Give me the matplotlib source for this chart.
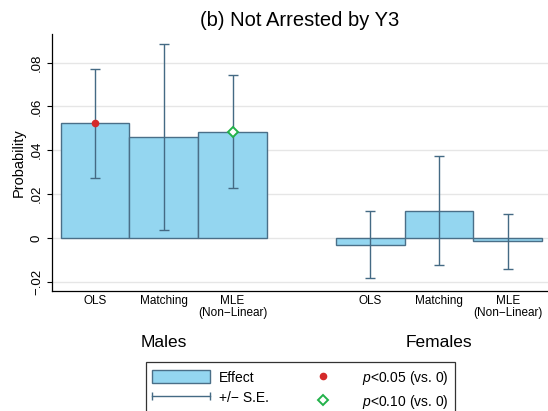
import numpy as np
import matplotlib
matplotlib.use("Agg")
import matplotlib.pyplot as plt
import matplotlib.transforms as mtransforms
from matplotlib.patches import Patch
from matplotlib.lines import Line2D
from matplotlib.legend_handler import HandlerLine2D

plt.rcParams["font.family"] = ["Liberation Sans", "DejaVu Sans"]
plt.rcParams["mathtext.fontset"] = "custom"
plt.rcParams["mathtext.rm"] = "Liberation Sans"
plt.rcParams["mathtext.it"] = "Liberation Sans:italic"

# Daten
groups = ["Males", "Females"]
models = ["OLS", "Matching", "MLE\n(Non\u2212Linear)"]
effect = {
    "Males": [0.0522, 0.0461, 0.0484],
    "Females": [-0.0030, 0.0125, -0.0016],
}
se = {
    "Males": [0.0250, 0.0425, 0.0258],
    "Females": [0.0153, 0.0247, 0.0124],
}
sig05 = {"Males": [True, False, False], "Females": [False, False, False]}
sig10 = {"Males": [False, False, True], "Females": [False, False, False]}

yticks = [-0.02, 0, 0.02, 0.04, 0.06, 0.08]
ytick_labels = ["\u2212.02", "0", ".02", ".04", ".06", ".08"]

bar_face = "#94d6f0"
bar_edge = "#4a6f88"
err_col = "#446a84"
red = "#d42a2a"
green = "#22b24a"

fig = plt.figure(figsize=(5.48, 4.11), dpi=100)
ax = fig.add_axes([52 / 548, 1 - 291 / 411, 1 - 52 / 548, (291 - 34) / 411])

xpos_all = []
xlab_all = []
for gi, g in enumerate(groups):
    xpos = gi * 4 + 1 + np.arange(len(models))
    vals = np.array(effect[g])
    errs = np.array(se[g])
    ax.bar(xpos, vals, width=1.0, color=bar_face, edgecolor=bar_edge,
           linewidth=1.0, zorder=2)
    ax.errorbar(xpos, vals, yerr=errs, fmt="none", ecolor=err_col,
                elinewidth=1.0, capsize=3.8, capthick=1.0, zorder=3)
    m05 = np.array(sig05[g])
    m10 = np.array(sig10[g])
    ax.plot(xpos[m05], vals[m05], "o", color=red, markersize=5.5,
            markeredgewidth=0, zorder=4)
    ax.plot(xpos[m10], vals[m10], "D", markerfacecolor="white",
            markeredgecolor=green, markersize=5, markeredgewidth=1.4,
            zorder=4)
    xpos_all += list(xpos)
    xlab_all += models

    trans = mtransforms.blended_transform_factory(ax.transData, fig.transFigure)
    ax.text(xpos.mean(), 1 - 342 / 411, g, transform=trans, ha="center",
            va="center", fontsize=12.5)

ax.set_xlim(0.373, 7.587)
ax.set_ylim(-0.0242, 0.093)
ax.set_xticks(xpos_all)
ax.set_xticklabels(xlab_all, fontsize=8.5, linespacing=0.95)
ax.tick_params(axis="x", length=0, pad=3)
ax.set_yticks(yticks)
ax.set_yticklabels(ytick_labels, rotation=90, va="center", fontsize=9.5)
ax.tick_params(axis="y", length=3.5, width=0.8, pad=3)
ax.set_ylabel("Probability", fontsize=10.5, labelpad=4)
ax.yaxis.grid(True, color="#e6e6e6", linewidth=1.0, zorder=0)
ax.set_axisbelow(True)
ax.spines["top"].set_visible(False)
ax.spines["right"].set_visible(False)
ax.spines["left"].set_linewidth(0.9)
ax.spines["bottom"].set_linewidth(0.9)
ax.set_title("(b) Not Arrested by Y3", fontsize=14.5, pad=6)

# Legende
h_eff = Patch(facecolor=bar_face, edgecolor=bar_edge, linewidth=1.0)
h_se = Line2D([], [], color=err_col, linewidth=1.0, marker="|",
              markersize=6, markeredgewidth=1.0)
h_05 = Line2D([], [], linestyle="none", marker="o", color=red,
              markersize=5.5, markeredgewidth=0)
h_10 = Line2D([], [], linestyle="none", marker="D", markerfacecolor="white",
              markeredgecolor=green, markersize=5, markeredgewidth=1.4)
leg = fig.legend(
    [h_eff, h_se, h_05, h_10],
    ["Effect", "+/\u2212 S.E.", "$p$<0.05 (vs. 0)", "$p$<0.10 (vs. 0)"],
    handler_map={h_se: HandlerLine2D(numpoints=2, marker_pad=0)},
    ncol=2, loc="upper left",
    bbox_to_anchor=(145.7 / 548, (411 - 362.3) / 411),
    fontsize=10, handlelength=4.2, handleheight=1.08, handletextpad=0.65,
    columnspacing=1.8, borderpad=0.45, labelspacing=0.45, borderaxespad=0,
    fancybox=False, framealpha=1, edgecolor="#333333",
)
leg.get_frame().set_linewidth(0.9)

fig.savefig("out.png", dpi=100)
